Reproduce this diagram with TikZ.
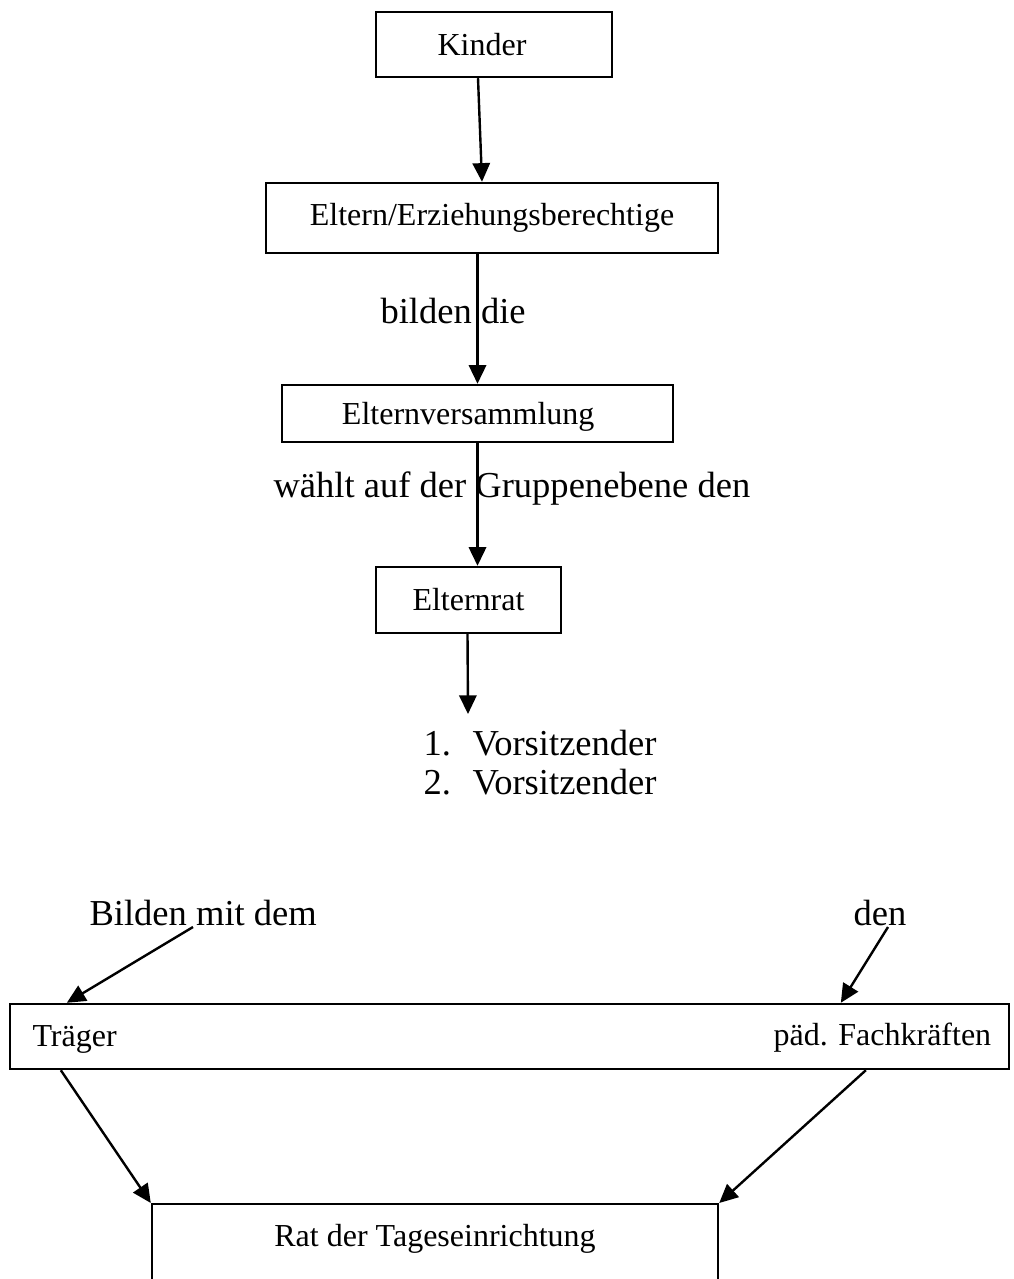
\documentclass[tikz,border=0pt]{standalone}
\usepackage{fontspec}
\setmainfont{Liberation Serif}
\usetikzlibrary{arrows.meta,calc}

\begin{document}
\begin{tikzpicture}[x=0.375pt, y=-0.375pt,
	kasten/.style={draw, line width=0.9pt, font=\fontsize{12}{14}\selectfont},
	klein/.style={inner sep=0pt, anchor=base west, font=\fontsize{12}{14}\selectfont},
	beschr/.style={inner sep=0pt, anchor=base west, font=\fontsize{13.7}{14.6}\selectfont},
	pfeil/.style={line width=0.9pt, -{Triangle[length=7pt,width=6.5pt]}}]
\useasboundingbox (0,0) rectangle (1013,1279);
\clip (0,0) rectangle (1013,1279);

% obere Kette
\node [kasten, minimum width=88.5pt, minimum height=24.4pt] (kinder) at (494,44.5) {\hspace*{-9pt}Kinder};
\node [kasten, minimum width=169.5pt, minimum height=26.25pt] (eltern) at (492,218) {Eltern/Erziehungsberechtige};
\node [kasten, minimum width=146.6pt, minimum height=21.4pt, text depth=0pt] (versamml) at (477.5,413.5) {\hspace*{-7pt}Elternversammlung};
\node [kasten, minimum width=69.4pt, minimum height=24.75pt] (elternrat) at (468.5,600) {Elternrat};

\node [beschr] (bilden) at (380,324) {bilden die};
\node [beschr] (waehlt) at (273,497) {wählt auf der Gruppenebene den};
\node [beschr, anchor=north west, align=left] (vorsitz) at (423,730)
	{\makebox[18.4pt][l]{1.}Vorsitzender\\\makebox[18.4pt][l]{2.}Vorsitzender};

\draw [pfeil] ($(kinder.south)+(-16,0)$) -- ($(eltern.north)+(-10,0)$);
\draw [pfeil] (eltern.south -| versamml.north) -- (versamml.north);
\draw [pfeil] (versamml.south) -- (versamml.south |- elternrat.north);
\draw [pfeil] ($(elternrat.south)+(-1,0)$) -- ($(vorsitz.north west)+(45,-16)$);

% untere Ebene
\node [beschr] (bildenmit) at (89,925) {Bilden mit dem};
\node [beschr] (den) at (853,925) {den};
\node [kasten, minimum width=374.6pt, minimum height=24.4pt] (bund) at (509.5,1036.5) {};
\node [klein] (traeger) at (32,1046) {Träger};
\node [klein] (fachkr) at (773,1045) {päd. Fachkräften};
\node [kasten, anchor=north, minimum width=212.25pt, inner ysep=0pt, text height=15.75pt, text depth=60pt] (rat) at (435,1203) {Rat der Tageseinrichtung};

\draw [pfeil] ($(bildenmit.base west)+(104,2)$) -- ($(bund.north west)+(58,0)$);
\draw [pfeil] ($(den.base west)+(35,2)$) -- ($(bund.north west)+(832,0)$);
\draw [pfeil] ($(bund.south west)+(52,0)$) -- (rat.north west);
\draw [pfeil] ($(bund.south west)+(857,0)$) -- (rat.north east);
\end{tikzpicture}
\end{document}
